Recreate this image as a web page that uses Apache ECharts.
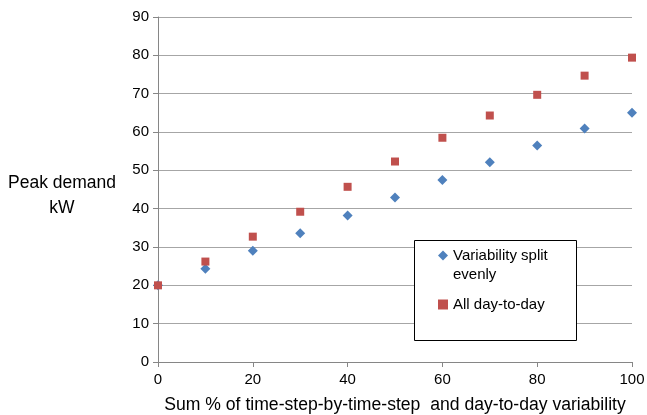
<!DOCTYPE html>
<html>
<head>
<meta charset="utf-8">
<script src="https://cdn.jsdelivr.net/npm/echarts@6/dist/echarts.min.js"></script>
<style>
  html, body { margin: 0; padding: 0; background: #fff; }
  #chart { width: 647px; height: 415px; }
</style>
</head>
<body>
<div id="chart"></div>
<script>
// sum % of variability
const xValues = [0, 10, 20, 30, 40, 50, 60, 70, 80, 90, 100];
// peak demand kW
const splitEvenly = [20, 24.3, 29.0, 33.6, 38.2, 42.9, 47.5, 52.1, 56.5, 60.9, 65.0];
const allDayToDay = [20, 26.2, 32.7, 39.2, 45.7, 52.3, 58.5, 64.3, 69.7, 74.7, 79.4];

const font = "'Liberation Sans', Arial, Helvetica, sans-serif";
const chart = echarts.init(document.getElementById("chart"), null, { renderer: "canvas" });

function pairs(ys) {
  return xValues.map(function (x, i) { return [x, ys[i]]; });
}

const option = {
  animation: false,
  grid: { left: 158, right: 15, top: 17, bottom: 53, outerBoundsMode: "none", containLabel: false },
  xAxis: {
    type: "value",
    min: 0,
    max: 100,
    interval: 20,
    name: "Sum % of time-step-by-time-step  and day-to-day variability",
    nameLocation: "middle",
    nameGap: 34,
    nameTextStyle: { color: "#000", fontSize: 17.6, fontFamily: font },
    axisLine: { lineStyle: { color: "#868686" } },
    axisTick: { show: true, length: 5, lineStyle: { color: "#868686" } },
    axisLabel: { color: "#000", fontSize: 15, fontFamily: font, margin: 10 },
    splitLine: { show: false }
  },
  yAxis: {
    type: "value",
    min: 0,
    max: 90,
    interval: 10,
    name: "{gap| }\n{t|Peak demand}\n{t|kW}",
    nameLocation: "middle",
    nameRotate: 0,
    nameGap: 96,
    nameTextStyle: {
      color: "#000", fontSize: 17.5, fontFamily: font, align: "center",
      rich: {
        gap: { fontSize: 10, lineHeight: 12, align: "center" },
        t: { color: "#000", fontSize: 17.5, fontFamily: font, lineHeight: 25, align: "center" }
      }
    },
    axisLine: { show: true, lineStyle: { color: "#868686" } },
    axisTick: { show: true, length: 5, lineStyle: { color: "#868686" } },
    axisLabel: { color: "#000", fontSize: 15, fontFamily: font, margin: 9 },
    splitLine: { lineStyle: { color: "#A6A6A6" } }
  },
  graphic: [{
    type: "rect",
    left: 414,
    top: 240,
    z: 3,
    shape: { width: 162, height: 100 },
    style: { fill: "#fff", stroke: "#000", lineWidth: 1 }
  }],
  legend: {
    orient: "vertical",
    left: 433,
    top: 222,
    itemWidth: 10,
    itemHeight: 10,
    itemGap: 11,
    selectedMode: false,
    z: 5,
    textStyle: { color: "#000", fontSize: 15, fontFamily: font, lineHeight: 19 },
    formatter: function (name) {
      // blank first line so the icon sits beside the first text line
      return name.indexOf("\n") >= 0 ? "\n" + name : name;
    },
    data: [
      { name: "Variability split\nevenly", icon: "diamond" },
      { name: "All day-to-day", icon: "rect" }
    ]
  },
  series: [
    {
      name: "Variability split\nevenly",
      type: "scatter",
      symbol: "diamond",
      symbolSize: 10,
      itemStyle: { color: "#4F81BD", opacity: 1 },
      data: pairs(splitEvenly)
    },
    {
      name: "All day-to-day",
      type: "scatter",
      symbol: "rect",
      symbolSize: 8,
      itemStyle: { color: "#C0504D", opacity: 1 },
      data: pairs(allDayToDay)
    }
  ]
};

chart.setOption(option);
</script>
</body>
</html>
